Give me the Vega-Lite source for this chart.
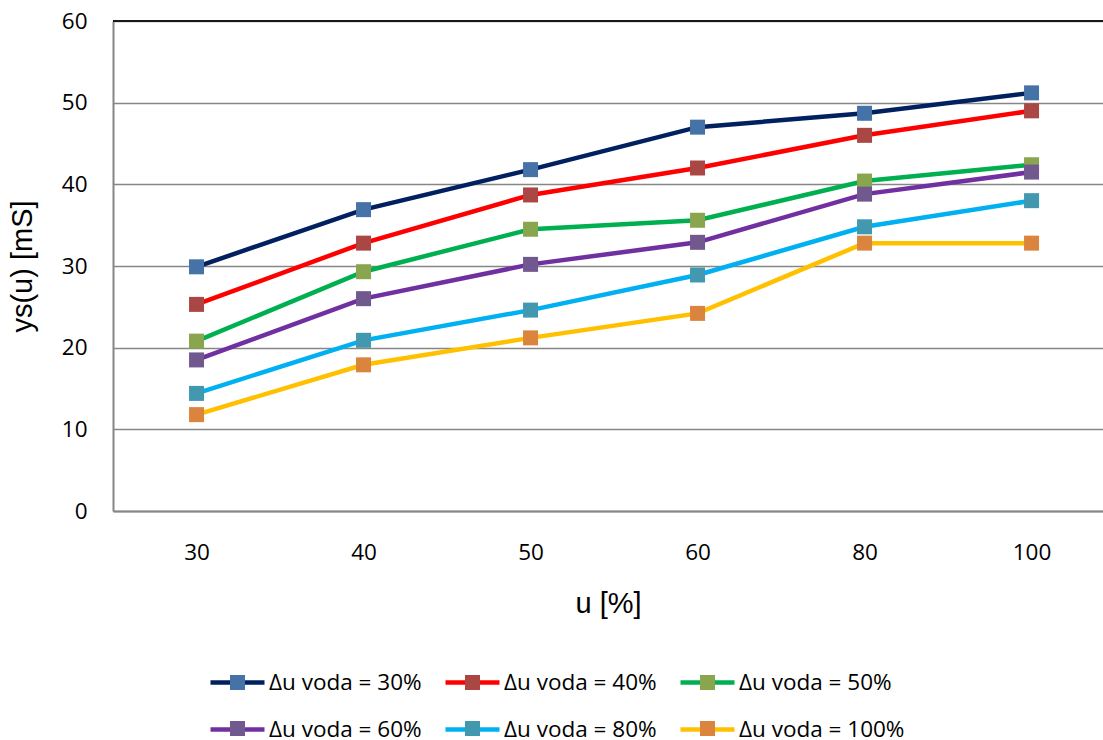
{
  "$schema": "https://vega.github.io/schema/vega-lite/v6.json",
  "width": 990,
  "height": 490,
  "autosize": {"type": "none"},
  "padding": {"left": 113, "top": 21, "right": 0, "bottom": 229},
  "background": "white",
  "config": {
    "view": {"stroke": null},
    "axis": {
      "labelColor": "black",
      "titleColor": "black",
      "labelFont": "Open Sans",
      "labelFontSize": 22.5,
      "titleFont": "Liberation Sans",
      "titleFontSize": 29,
      "titleFontWeight": "normal",
      "ticks": false,
      "domainColor": "#868686",
      "domainWidth": 2,
      "gridColor": "#868686",
      "gridWidth": 1.3
    },
    "legend": {
      "labelFont": "Open Sans",
      "labelFontSize": 22.5,
      "labelColor": "black",
      "labelLimit": 400,
      "padding": 0
    }
  },
  "data": {
    "values": [
      {"u": 30, "d": 30, "y": 29.9}, {"u": 40, "d": 30, "y": 36.9}, {"u": 50, "d": 30, "y": 41.8}, {"u": 60, "d": 30, "y": 47.0}, {"u": 80, "d": 30, "y": 48.7}, {"u": 100, "d": 30, "y": 51.2},
      {"u": 30, "d": 40, "y": 25.3}, {"u": 40, "d": 40, "y": 32.8}, {"u": 50, "d": 40, "y": 38.7}, {"u": 60, "d": 40, "y": 42.0}, {"u": 80, "d": 40, "y": 46.0}, {"u": 100, "d": 40, "y": 49.0},
      {"u": 30, "d": 50, "y": 20.8}, {"u": 40, "d": 50, "y": 29.3}, {"u": 50, "d": 50, "y": 34.5}, {"u": 60, "d": 50, "y": 35.6}, {"u": 80, "d": 50, "y": 40.4}, {"u": 100, "d": 50, "y": 42.4},
      {"u": 30, "d": 60, "y": 18.5}, {"u": 40, "d": 60, "y": 26.0}, {"u": 50, "d": 60, "y": 30.2}, {"u": 60, "d": 60, "y": 32.9}, {"u": 80, "d": 60, "y": 38.8}, {"u": 100, "d": 60, "y": 41.5},
      {"u": 30, "d": 80, "y": 14.4}, {"u": 40, "d": 80, "y": 20.9}, {"u": 50, "d": 80, "y": 24.6}, {"u": 60, "d": 80, "y": 28.9}, {"u": 80, "d": 80, "y": 34.8}, {"u": 100, "d": 80, "y": 38.0},
      {"u": 30, "d": 100, "y": 11.8}, {"u": 40, "d": 100, "y": 17.9}, {"u": 50, "d": 100, "y": 21.2}, {"u": 60, "d": 100, "y": 24.2}, {"u": 80, "d": 100, "y": 32.8}, {"u": 100, "d": 100, "y": 32.8}
    ]
  },
  "encoding": {
    "x": {
      "field": "u",
      "type": "ordinal",
      "scale": {"type": "point", "padding": 0.464, "align": 0.539},
      "axis": {"labelAngle": 0, "grid": false, "labelPadding": 30, "title": "u [%]", "titlePadding": 26}
    },
    "y": {
      "field": "y",
      "type": "quantitative",
      "scale": {"domain": [0, 60], "nice": false},
      "axis": {"values": [0, 10, 20, 30, 40, 50, 60], "grid": true, "labelPadding": 26, "title": "ys(u) [mS]", "titlePadding": 24}
    }
  },
  "layer": [
    {
      "mark": {"type": "line", "strokeWidth": 4.5},
      "encoding": {
        "color": {
          "field": "d",
          "type": "nominal",
          "scale": {"domain": [30, 40, 50, 60, 80, 100], "range": ["#002060", "#FF0000", "#00B050", "#7030A0", "#00B0F0", "#FFC000"]},
          "legend": {
            "title": null,
            "orient": "none",
            "direction": "horizontal",
            "legendX": 99,
            "legendY": 636,
            "columns": 3,
            "columnPadding": 14,
            "rowPadding": 10,
            "symbolType": "M-1.174,0H1.174",
            "symbolSize": 2116,
            "symbolStrokeWidth": 4.5,
            "labelOffset": 6,
            "labelExpr": "'Δu voda = ' + datum.label + '%'"
          }
        }
      }
    },
    {
      "mark": {"type": "point", "shape": "square", "filled": true, "size": 225, "opacity": 1},
      "encoding": {
        "fill": {
          "field": "d",
          "type": "nominal",
          "scale": {"range": ["#4572A7", "#AA4643", "#89A54E", "#71588F", "#4198AF", "#DB843D"]},
          "legend": {
            "title": null,
            "orient": "none",
            "direction": "horizontal",
            "legendX": 99,
            "legendY": 636,
            "columns": 3,
            "columnPadding": 14,
            "rowPadding": 4,
            "symbolType": "M-1.174,0H1.174M-0.326,-0.326H0.326V0.326H-0.326Z",
            "symbolSize": 2116,
            "symbolStrokeColor": "transparent",
            "symbolStrokeWidth": 4.5,
            "symbolOpacity": 1,
            "labelOffset": 6,
            "labelOpacity": 0,
            "labelExpr": "'Δu voda = ' + datum.label + '%'"
          }
        }
      }
    },
    {
      "mark": {"type": "rule", "color": "#1a1a1a", "strokeWidth": 1.5},
      "encoding": {"y": {"datum": 60, "type": "quantitative"}, "x": null}
    }
  ]
}
